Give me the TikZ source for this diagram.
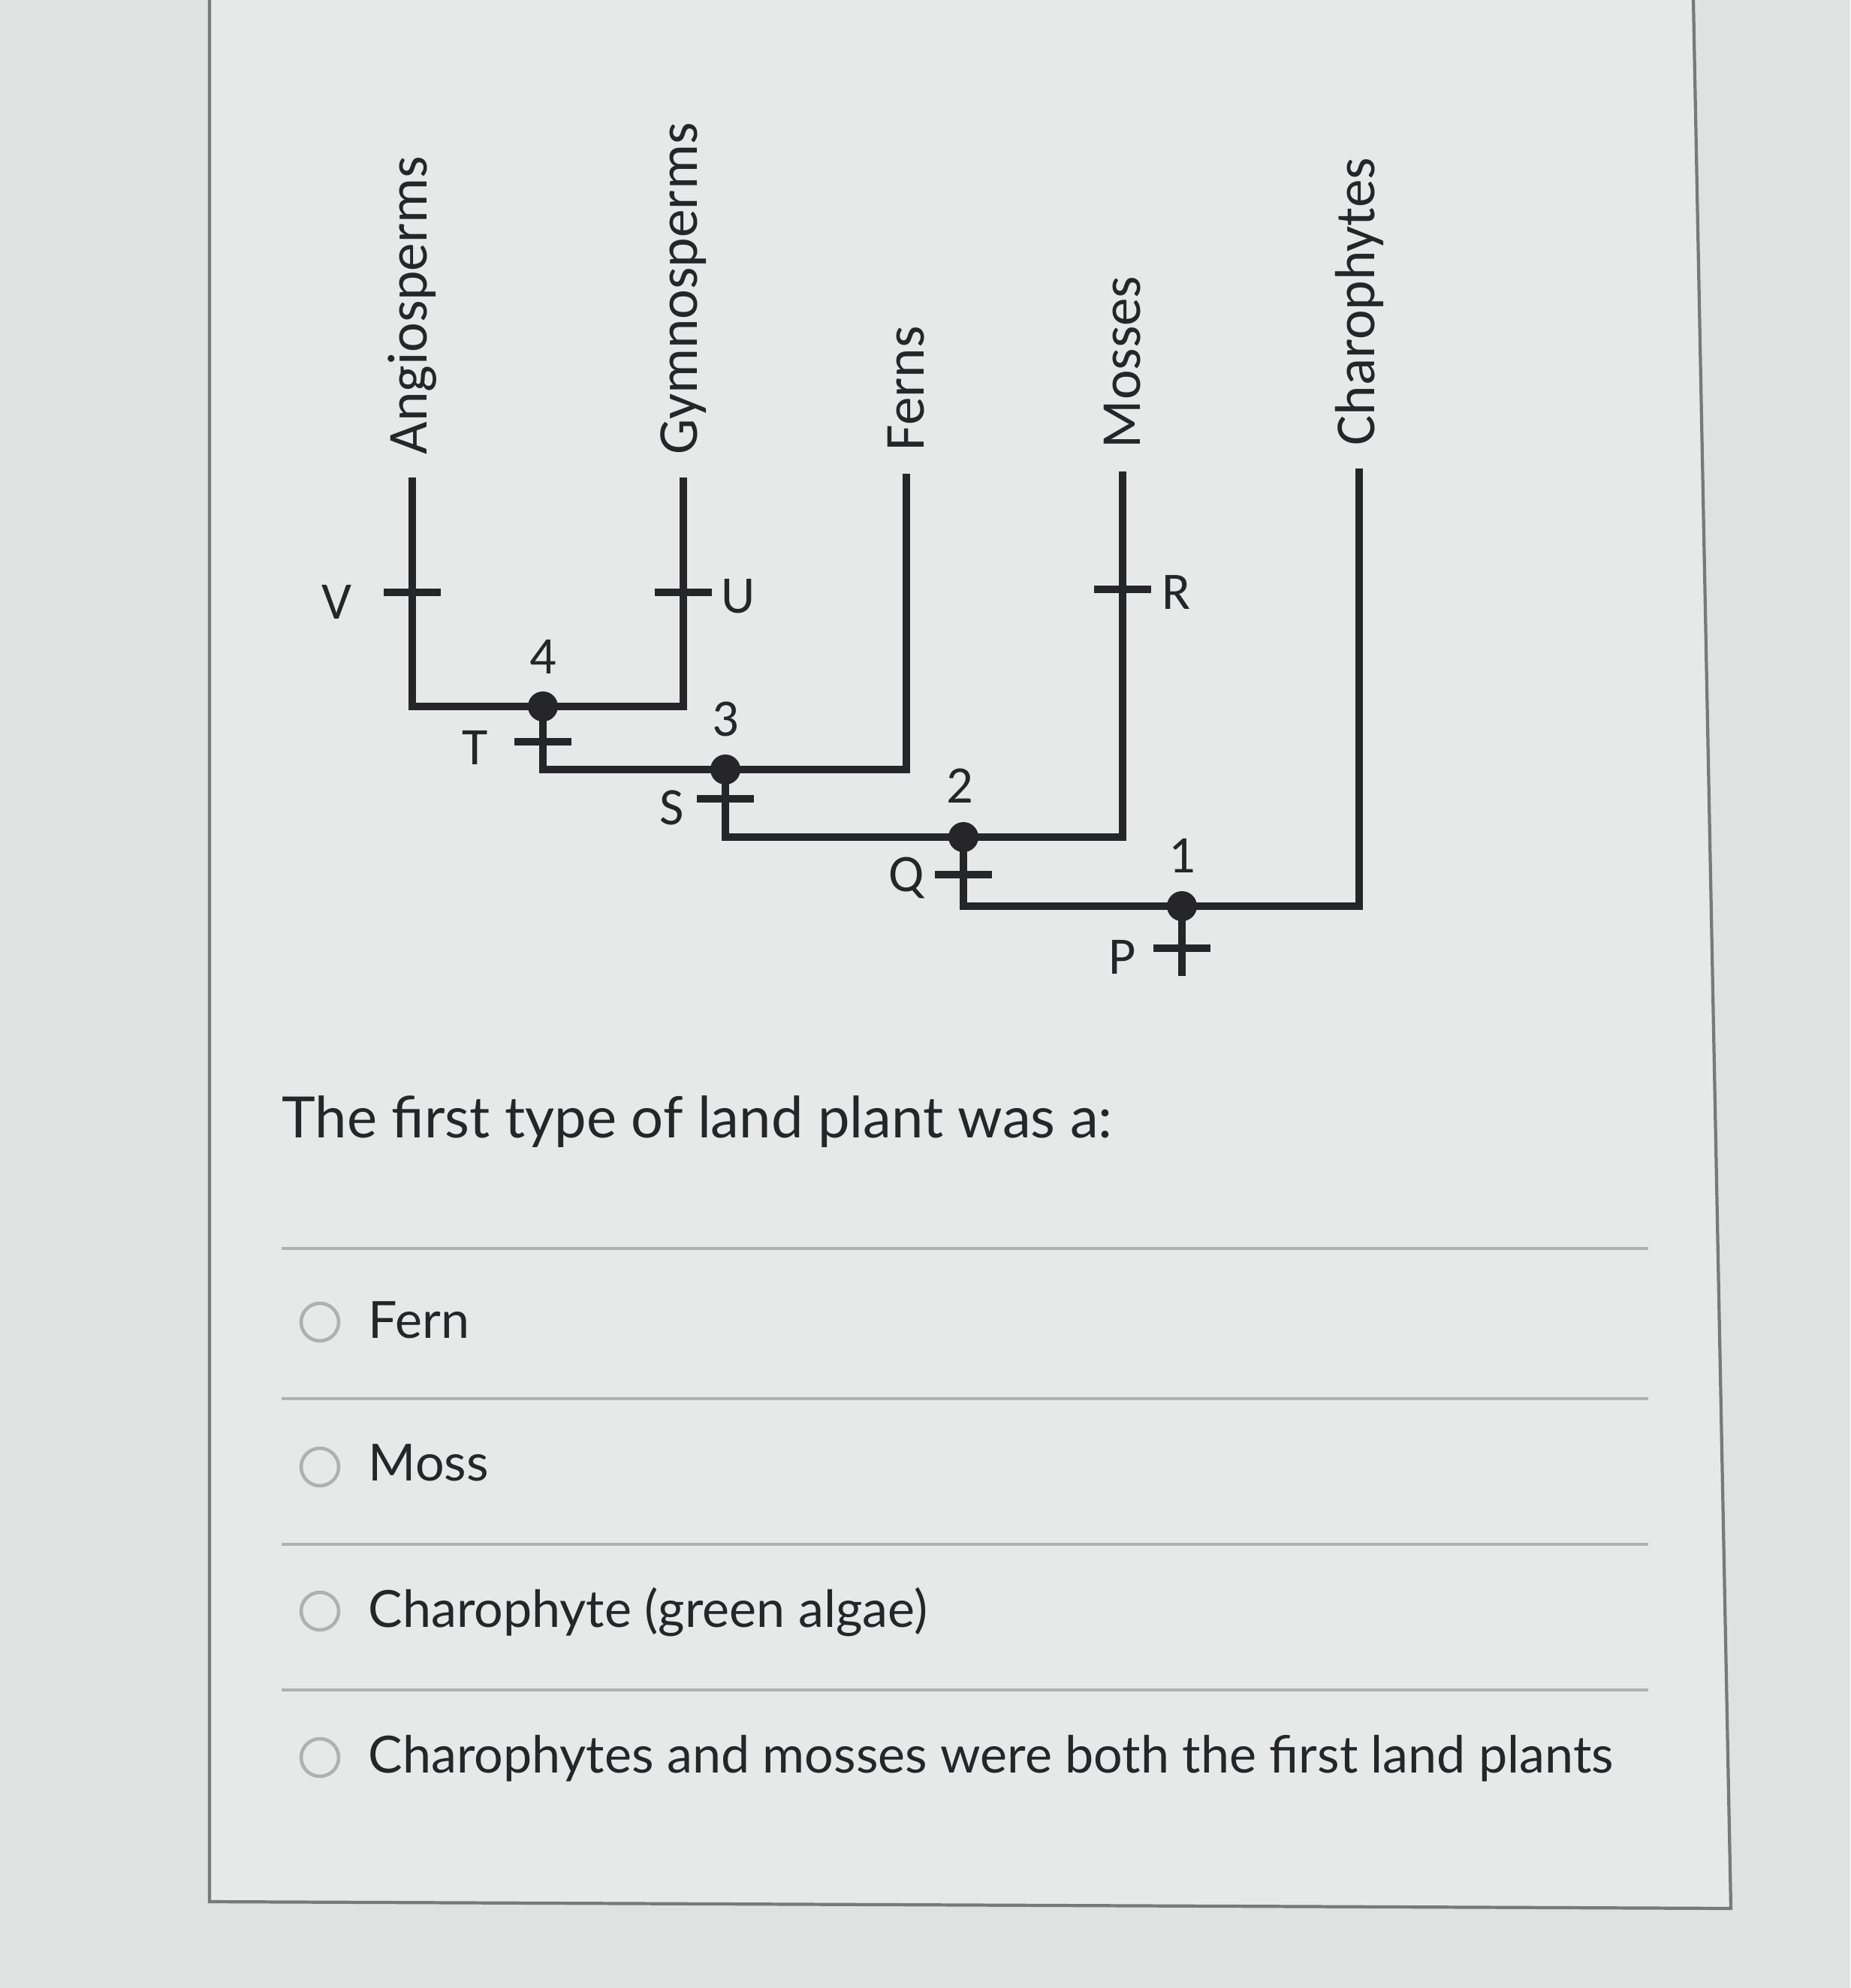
\documentclass[tikz,border=0pt]{standalone}
\usepackage{fontspec}
\setmainfont{Lato}
\newfontfamily\cladofont{Carlito}
\usetikzlibrary{positioning}
\definecolor{ink}{RGB}{38,38,40}
\definecolor{paper}{RGB}{224,226,225}
\definecolor{panel}{RGB}{231,233,232}
\definecolor{framec}{RGB}{120,122,122}
\definecolor{rulec}{RGB}{176,178,178}
\definecolor{ring}{RGB}{175,177,177}
\begin{document}
\begin{tikzpicture}[
    branch/.style={line width=2.8pt, draw=ink, line join=miter},
    bar/.style={line width=2.8pt, draw=ink},
    clade/.style={circle, fill=ink, inner sep=0pt, minimum size=0.4cm},
    taxon/.style={rotate=90, anchor=west, inner xsep=0.3cm, inner ysep=0pt, text=ink, font=\cladofont\fontsize{21.4}{24}\selectfont},
    tag/.style={text=ink, inner sep=0pt, font=\cladofont\fontsize{20}{24}\selectfont},
    radio/.style={circle, draw=ring, line width=1.3pt, minimum size=0.5cm, inner sep=0pt},
    choice/.style={anchor=base west, text=ink, inner sep=0pt, font=\fontsize{19.4}{23}\selectfont},
    rule/.style={draw=rulec, line width=1pt}
]
\useasboundingbox (0,0) rectangle (24.64,-26.48);
\fill[paper] (0,0) rectangle (24.64,-26.48);
\draw[framec, line width=1.2pt, fill=panel] (2.79,0) -- (2.79,-25.33) -- (23.05,-25.42) -- (22.55,0);

% cladogram
\node[taxon] (angio) at (5.49,-6.36) {Angiosperms};
\node[taxon] (gymno) at (9.10,-6.36) {Gymnosperms};
\node[taxon] (ferns) at (12.07,-6.31) {Ferns};
\node[taxon] (mosses) at (14.95,-6.28) {Mosses};
\node[taxon] (charo) at (18.10,-6.24) {Charophytes};

\node[clade] (n4) at (7.23,-9.41) {};
\node[clade] (n3) at (9.66,-10.25) {};
\node[clade] (n2) at (12.83,-11.15) {};
\node[clade] (n1) at (15.74,-12.07) {};
\coordinate (root) at (15.74,-13.00);

\draw[branch] (angio.west) |- (n4.center) -| (gymno.west);
\draw[branch] (n4.center) |- (n3.center) -| (ferns.west);
\draw[branch] (n3.center) |- (n2.center) -| (mosses.west);
\draw[branch] (n2.center) |- (n1.center) -| (charo.west);
\draw[branch] (n1.center) -- (root);

\node[tag] (l4) at (7.23,-8.75) {4};
\node[tag] (l3) at (9.66,-9.58) {3};
\node[tag] (l2) at (12.78,-10.47) {2};
\node[tag] (l1) at (15.74,-11.40) {1};

\coordinate (tv) at (5.49,-7.89);
\coordinate (tu) at (9.10,-7.89);
\coordinate (tr) at (14.95,-7.85);
\coordinate (tt) at (7.23,-9.88);
\coordinate (ts) at (9.66,-10.64);
\coordinate (tq) at (12.83,-11.65);
\coordinate (tp) at (15.74,-12.63);
\draw[bar] ([xshift=-0.38cm]tv) -- ([xshift=0.38cm]tv);
\draw[bar] ([xshift=-0.38cm]tu) -- ([xshift=0.38cm]tu);
\draw[bar] ([xshift=-0.38cm]tr) -- ([xshift=0.38cm]tr);
\draw[bar] ([xshift=-0.38cm]tt) -- ([xshift=0.38cm]tt);
\draw[bar] ([xshift=-0.38cm]ts) -- ([xshift=0.38cm]ts);
\draw[bar] ([xshift=-0.38cm]tq) -- ([xshift=0.38cm]tq);
\draw[bar] ([xshift=-0.38cm]tp) -- ([xshift=0.38cm]tp);

\node[tag] (lv) at (4.48,-8.02) {V};
\node[tag] (lu) at (9.83,-7.94) {U};
\node[tag] (lr) at (15.67,-7.89) {R};
\node[tag] (lt) at (6.33,-9.96) {T};
\node[tag] (ls) at (8.95,-10.76) {S};
\node[tag] (lq) at (12.07,-11.69) {Q};
\node[tag] (lp) at (14.95,-12.75) {P};

% question
\node[choice, font=\fontsize{21.6}{26}\selectfont] (q) at (3.75,-15.15) {The first type of land plant was a:};

\draw[rule] (3.75,-16.63) -- (21.95,-16.63);
\draw[rule] (3.75,-18.63) -- (21.95,-18.63);
\draw[rule] (3.75,-20.57) -- (21.95,-20.57);
\draw[rule] (3.75,-22.51) -- (21.95,-22.51);

\node[radio] (r1) at (4.26,-17.61) {};
\node[radio] (r2) at (4.26,-19.54) {};
\node[radio] (r3) at (4.26,-21.46) {};
\node[radio] (r4) at (4.26,-23.41) {};
\node[choice] (o1) at (4.90,-17.82) {Fern};
\node[choice] (o2) at (4.90,-19.72) {Moss};
\node[choice] (o3) at (4.90,-21.67) {Charophyte (green algae)};
\node[choice] (o4) at (4.90,-23.61) {Charophytes and mosses were both the first land plants};
\end{tikzpicture}
\end{document}
